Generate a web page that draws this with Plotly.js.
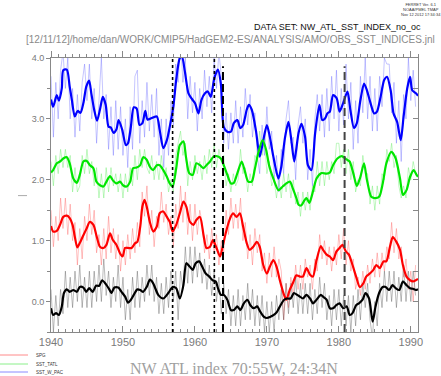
<!DOCTYPE html>
<html><head><meta charset="utf-8">
<script src="https://cdn.plot.ly/plotly-3.0.1.min.js"></script>
<style>html,body{margin:0;padding:0;background:#fff}#plot{width:441px;height:376px}</style>
</head><body><div id="plot"></div>
<script>
// ---- data ----
// Raw (thin) series on a 4-month grid starting at 1940.0
const thinStart = 1940, thinStep = 1/3;
const wpacRaw = [
 3.7,2.7,3.6, 3.0,3.8,4.1, 3.5,4.0,3.0, 3.5,2.7,3.4, 2.8,3.6,3.9, 3.3,3.9,3.0, 3.5,2.6,3.3, 4.0,3.0,3.4,
 2.5,3.2,2.4, 3.3,2.5,3.2, 2.4,3.0,2.2, 3.2,2.5,3.7, 3.8,2.6,3.3, 2.7,3.6,2.8, 3.4,2.7,3.5, 2.4,3.0,2.2,
 3.0,2.4,3.3, 2.9,3.9,3.6, 4.3,3.6,4.0, 3.0,3.7,3.1, 3.6,2.8,3.5, 3.0,3.8,3.2, 3.7,3.1,4.0, 3.5,4.1,3.7,
 2.6,3.1,2.5, 3.1,2.6,3.3, 2.6,3.2,2.7, 3.5,2.9,3.4, 2.7,3.1,2.4, 2.1,2.9,2.4, 3.2,2.5,2.8, 2.0,2.4,1.8,
 2.5,2.1,3.0, 3.3,2.6,2.7, 2.0,2.9,3.2, 2.6,3.0,2.0, 2.5,1.9,3.0, 3.4,2.8,3.4, 2.7,3.5,2.8, 3.7,3.0,3.8,
 2.8,3.5,2.9, 3.9,3.0,3.6, 2.5,3.3,2.6, 3.7,3.1,4.0, 3.0,3.7,2.8, 3.5,2.8,3.7, 3.2,4.0,3.9, 3.9,3.1,3.6,
 2.6,3.3,2.3, 3.4,3.0,4.0, 3.3,3.8,3.2];
const tatlRaw = [
 2.3,1.9,2.4, 2.1,2.5,2.2, 2.5,2.2,2.4, 1.8,2.2,1.8, 1.9,2.4,2.1, 2.5,2.1,2.3, 1.9,2.2,1.7, 2.1,1.7,2.2,
 1.8,2.2,1.9, 2.1,1.8,2.1, 1.7,2.1,1.8, 2.2,1.9,2.4, 2.0,2.5,2.2, 2.5,2.2,2.1, 2.4,2.0,2.3, 2.0,2.4,2.0,
 2.2,1.8,2.0, 1.8,2.4,2.6, 2.8,2.4,2.6, 1.9,2.3,2.0, 2.4,2.1,2.3, 2.0,2.4,2.1, 2.5,2.2,2.6, 2.2,2.5,2.3,
 2.4,1.9,2.1, 1.8,2.1,1.9, 2.0,2.5,2.1, 2.2,1.8,2.1, 1.9,2.4,2.3, 2.8,2.4,2.7, 2.1,2.3,1.9, 2.0,1.7,2.0,
 1.7,2.1,1.8, 2.1,1.7,2.0, 1.6,1.8,1.4, 1.8,1.5,1.8, 1.5,1.9,1.8, 2.3,1.9,2.3, 1.9,2.3,2.0, 2.3,2.1,2.6,
 2.6,2.2,2.5, 2.1,2.5,2.0, 2.3,1.8,2.0, 1.9,2.4,2.1, 2.1,1.6,1.9, 1.5,1.9,1.6, 2.1,2.0,2.5, 2.3,2.6,2.2,
 2.4,1.9,1.7, 1.9,1.7,2.2, 2.0,2.3,2.1];
const spgRaw = [
 1.5,0.9,1.4, 1.0,1.7,1.2, 1.7,1.1,1.6, 1.0,1.3,0.6, 1.2,0.7,1.4, 1.0,1.6,1.1, 1.5,0.8,1.1, 0.6,1.2,0.7,
 1.4,0.8,1.2, 0.7,1.1,0.5, 1.0,0.6,1.1, 0.7,1.2,0.8, 1.3,0.9,1.8, 1.4,1.9,1.1, 1.5,0.9,1.4, 1.2,1.8,1.3,
 1.6,1.1,1.4, 0.9,1.6,1.2, 1.9,1.3,1.8, 1.1,1.6,1.0, 1.6,1.1,1.5, 1.3,0.8,1.1, 0.7,1.2,0.8, 1.1,0.6,1.0,
 0.8,1.5,1.1, 1.7,1.2,1.6, 1.2,1.7,1.0, 1.3,0.7,1.1, 0.6,1.2,0.8, 1.1,0.5,0.8, 0.3,0.8,0.4, 0.9,0.4,0.7,
 0.5,-0.3,0.3, -0.1,0.4,0.1, 0.6,0.2,0.6, 0.2,0.7,0.4, 0.6,0.2,0.7, 0.5,1.1,0.7, 1.0,0.6,0.9, 0.5,0.9,0.6,
 1.1,0.7,1.2, 0.6,1.0,0.5, 0.7,0.2,0.4, 0.1,0.5,0.2, 0.6,0.3,0.7, 0.4,0.8,0.4, 0.8,0.5,0.9, 0.7,1.3,0.8,
 1.2,0.7,0.9, 0.4,0.7,0.2, 0.5,0.0,0.6];
const nwatlRaw = [
 0.2,-0.5,0.1, -0.4,0.2,-0.2, 0.5,-0.1,0.4, -0.1,0.5,0.0, 0.6,-0.1,0.4, -0.1,0.5,-0.1, 0.5,0.0,0.6, 0.0,0.7,0.1,
 0.5,-0.1,0.4, 0.0,0.6,-0.1, 0.4,-0.3,0.2, -0.3,0.4,-0.1, 0.5,-0.1,0.4, 0.0,0.6,0.1, 0.6,0.0,0.4, -0.2,0.3,-0.2,
 0.4,-0.1,0.5, 0.0,0.5,-0.3, 0.5,0.2,0.9, 0.3,0.9,0.3, 0.9,0.4,0.8, 0.3,0.7,0.2, 0.6,0.1,0.5, 0.0,0.4,-0.2,
 0.3,-0.2,0.2, -0.4,0.1,-0.4, 0.2,-0.4,0.1, -0.3,0.3,-0.3, 0.2,-0.4,0.1, -0.4,0.1,-0.5, 0.0,-0.5,0.0, -0.5,0.1,-0.3,
 0.2,-0.3,0.3, -0.2,0.3,-0.1, 0.4,-0.2,0.3, -0.2,0.3,-0.2, 0.3,-0.3,0.2, -0.2,0.4,-0.1, 0.3,-0.3,0.1, -0.4,0.2,-0.3,
 0.2,-0.4,0.1, -0.4,0.1,-0.5, 0.1,-0.4,0.2, -0.3,0.3,-0.1, 0.3,-0.3,-0.6, 0.0,-0.4,0.3, -0.1,0.5,0.0, 0.5,0.0,0.5,
 -0.1,0.4,0.0, 0.6,0.0,0.5, 0.0,0.5,0.1];

// Smoothed (thick) series
const wpacYears = [1940.0,1940.3,1940.8,1941.1,1941.5,1941.7,1942.2,1942.6,1942.9,1943.3,1943.7,1944.1,1944.5,1944.9,1945.3,1945.6,1946.0,1946.4,1946.8,1947.2,1947.6,1948.0,1948.3,1948.7,1949.1,1949.4,1949.9,1950.4,1950.7,1951.1,1951.5,1951.9,1952.3,1952.7,1953.1,1953.4,1953.75,1954.7,1955.1,1955.6,1956.1,1956.5,1957.0,1957.4,1957.9,1958.2,1958.6,1959.1,1959.5,1960.0,1960.5,1960.9,1961.4,1961.8,1962.2,1962.7,1963.2,1963.6,1964.0,1964.5,1965.0,1965.4,1965.9,1966.3,1966.7,1967.2,1967.5,1967.9,1968.5,1969.0,1969.5,1970.0,1970.4,1970.9,1971.6,1972.0,1972.5,1973.0,1973.4,1973.8,1974.4,1974.8,1975.3,1975.7,1976.2,1976.7,1977.3,1977.7,1978.1,1978.4,1978.75,1979.2,1979.7,1980.1,1980.6,1981.2,1981.6,1982.1,1982.5,1983.0,1983.5,1983.9,1984.4,1984.9,1985.3,1985.8,1986.3,1986.7,1987.2,1987.6,1988.1,1988.6,1989.0,1989.5,1989.9,1990.2,1990.7,1991.0];
const wpacSmooth = [3.32,3.20,3.39,3.30,3.50,3.80,3.81,3.53,3.31,3.04,3.13,3.10,3.26,3.53,3.63,3.42,3.15,2.97,3.15,3.36,3.23,2.87,2.86,2.77,2.83,2.98,2.82,2.57,2.60,2.87,3.19,3.17,2.90,2.93,3.13,2.99,3.00,3.04,2.82,2.52,2.65,2.87,3.20,3.64,4.00,4.02,3.78,3.42,3.34,3.26,3.09,3.31,3.42,3.45,3.36,3.67,3.81,3.58,2.87,2.79,2.79,2.93,2.98,2.85,2.90,3.15,3.23,3.15,2.79,2.38,2.65,2.90,2.71,2.38,2.02,2.21,2.68,2.95,2.65,2.30,2.77,2.92,2.71,2.24,2.16,2.76,3.23,2.98,3.01,3.09,3.12,3.39,3.34,3.12,3.26,3.45,3.15,2.85,2.93,3.31,3.58,3.47,3.26,3.09,3.12,3.36,3.64,3.69,3.47,3.09,2.95,2.65,3.04,3.50,3.69,3.47,3.42,3.38];
const tatlYears = [1940.0,1940.3,1940.8,1941.25,1941.7,1942.2,1942.6,1943.1,1943.6,1944.0,1944.5,1944.95,1945.4,1945.9,1946.3,1946.8,1947.3,1947.7,1948.2,1948.6,1949.1,1949.6,1950.0,1950.5,1951.0,1951.4,1951.9,1952.4,1952.8,1953.3,1953.75,1954.2,1954.7,1955.1,1955.6,1956.1,1956.5,1956.9,1957.4,1957.9,1958.4,1958.75,1959.2,1959.7,1960.2,1960.7,1961.2,1961.6,1962.1,1962.5,1963.0,1963.6,1964.0,1964.5,1965.0,1965.4,1965.9,1966.5,1966.9,1967.4,1967.9,1968.3,1968.8,1969.4,1969.9,1970.3,1970.9,1971.6,1972.2,1972.7,1973.2,1973.6,1974.1,1974.4,1974.8,1975.2,1975.5,1975.9,1976.3,1976.9,1977.6,1978.3,1978.75,1979.2,1979.8,1980.4,1981.0,1981.5,1982.0,1982.5,1983.0,1983.5,1983.9,1984.5,1984.96,1985.6,1986.1,1986.6,1987.3,1987.9,1988.5,1988.9,1989.4,1989.9,1990.4,1990.8,1991.0];
const tatlSmooth = [2.12,2.16,2.27,2.30,2.35,2.37,2.27,2.02,1.95,2.08,2.30,2.31,2.24,2.19,1.97,1.91,1.89,1.97,2.06,1.99,1.94,1.97,1.91,1.89,1.97,2.19,2.20,2.24,2.37,2.33,2.21,2.16,2.24,2.24,2.16,2.05,1.94,1.89,2.19,2.57,2.63,2.38,2.11,2.08,2.27,2.24,2.19,2.24,2.30,2.37,2.39,2.35,2.24,2.08,1.94,1.95,2.11,2.30,2.16,1.97,1.97,2.16,2.44,2.65,2.49,2.24,2.02,1.83,1.89,1.94,1.97,1.86,1.70,1.59,1.58,1.66,1.70,1.62,1.76,2.02,2.11,2.10,2.12,2.24,2.35,2.39,2.34,2.30,2.11,1.90,2.05,2.27,2.00,1.72,1.70,1.72,1.94,2.27,2.46,2.35,2.02,1.75,1.83,2.05,2.16,2.08,2.05];
const spgYears = [1940.0,1940.3,1940.8,1941.25,1941.7,1942.2,1942.6,1943.0,1943.3,1943.65,1944.0,1944.5,1944.95,1945.4,1945.9,1946.3,1946.8,1947.3,1947.7,1948.2,1948.6,1949.1,1949.6,1949.95,1950.3,1950.7,1951.2,1951.7,1952.0,1952.4,1952.7,1953.0,1953.3,1953.75,1954.2,1954.7,1955.1,1955.6,1956.1,1956.5,1956.9,1957.4,1957.9,1958.4,1958.8,1959.3,1959.8,1960.2,1960.7,1961.2,1961.6,1962.1,1962.5,1963.0,1963.5,1963.9,1964.4,1964.9,1965.3,1965.8,1966.25,1966.7,1967.2,1967.6,1968.1,1968.6,1969.0,1969.5,1970.0,1970.4,1970.9,1971.35,1971.8,1972.3,1972.7,1973.2,1973.6,1974.1,1974.6,1975.0,1975.5,1976.0,1976.4,1976.9,1977.5,1977.8,1978.3,1978.75,1979.2,1979.65,1980.1,1980.5,1981.0,1981.4,1981.9,1982.4,1982.9,1983.4,1983.8,1984.3,1984.8,1985.2,1985.7,1986.2,1986.6,1987.1,1987.5,1988.0,1988.5,1988.9,1989.4,1989.9,1990.3,1990.7,1991.0];
const spgSmooth = [1.24,1.15,1.16,1.26,1.39,1.41,1.37,1.26,1.07,0.89,0.96,1.09,1.20,1.31,1.26,1.09,0.90,0.88,0.93,1.12,1.01,0.93,0.79,0.74,0.88,0.88,0.88,0.96,0.98,1.23,1.56,1.67,1.56,1.30,1.15,1.23,1.45,1.48,1.39,1.31,1.15,1.26,1.45,1.64,1.56,1.31,1.26,1.34,1.39,1.09,0.88,0.90,1.01,0.88,0.74,0.93,1.18,1.37,1.45,1.39,1.45,1.23,0.96,0.85,0.90,0.98,0.90,0.60,0.46,0.57,0.68,0.57,0.35,0.14,0.03,0.20,0.30,0.43,0.41,0.41,0.55,0.44,0.41,0.68,0.91,0.85,0.77,0.74,0.68,0.82,0.88,0.93,0.82,0.77,0.60,0.41,0.24,0.30,0.41,0.46,0.52,0.60,0.55,0.66,0.66,0.90,1.06,0.98,0.85,0.60,0.41,0.35,0.33,0.35,0.37];
const nwatlYears = [1940.0,1940.3,1940.7,1941.1,1941.5,1941.8,1942.2,1942.6,1943.1,1943.6,1944.0,1944.5,1944.9,1945.3,1945.8,1946.25,1946.7,1947.1,1947.6,1948.1,1948.4,1948.8,1949.35,1949.8,1950.3,1950.7,1951.1,1951.5,1952.0,1952.4,1952.8,1953.3,1953.75,1954.2,1954.9,1955.6,1956.3,1956.9,1957.4,1957.9,1958.4,1958.8,1959.3,1959.7,1960.1,1960.6,1961.1,1961.5,1962.0,1962.45,1962.9,1963.2,1963.6,1964.0,1964.5,1965.0,1965.4,1965.9,1966.3,1966.8,1967.3,1967.7,1968.2,1968.65,1969.1,1969.6,1970.0,1970.5,1970.96,1971.4,1971.9,1972.4,1972.8,1973.3,1973.75,1974.2,1974.6,1975.0,1975.5,1976.0,1976.4,1976.9,1977.5,1977.8,1978.3,1978.75,1979.2,1979.65,1980.1,1980.6,1981.1,1981.5,1981.9,1982.4,1982.8,1983.3,1983.7,1984.2,1984.7,1985.1,1985.6,1986.1,1986.5,1987.0,1987.45,1987.9,1988.4,1988.9,1989.4,1989.9,1990.3,1990.7,1991.0];
const nwatlSmooth = [-0.11,-0.22,-0.19,-0.22,-0.08,0.14,0.20,0.16,0.19,0.16,0.24,0.23,0.16,0.22,0.16,0.26,0.26,0.35,0.29,0.20,0.14,0.23,0.23,0.16,0.08,-0.02,0.03,0.11,0.20,0.19,0.16,0.24,0.36,0.30,0.11,0.05,0.14,0.24,0.22,0.05,0.27,0.63,0.57,0.52,0.63,0.66,0.55,0.46,0.41,0.35,0.33,0.22,0.11,0.11,0.03,-0.14,-0.14,-0.08,-0.14,-0.03,0.03,-0.06,-0.11,-0.08,-0.17,-0.25,-0.27,-0.25,-0.22,-0.17,-0.06,0.03,0.05,0.05,0.14,0.11,0.08,0.05,0.11,0.05,-0.03,0.03,0.11,0.08,0.03,-0.11,-0.11,-0.06,-0.03,-0.11,-0.08,-0.22,-0.19,-0.06,-0.03,0.03,0.14,0.05,-0.33,-0.08,0.14,0.24,0.24,0.19,0.27,0.22,0.19,0.33,0.27,0.22,0.21,0.19,0.20];

const dottedYears = [1956.9, 1962.7];
const dashedYears = [1963.9, 1980.8];
const dashedColors = ['#000000', '#444444'];
const legendNames = ['SPG', 'SST_TATL', 'SST_W_PAC'];
const xTickYears = [1940, 1950, 1960, 1970, 1980, 1990];

// ---- build ----
const thinX = arr => arr.map((_, i) => thinStart + i * thinStep);
const thin = (y, color) => ({x: thinX(y), y: y, type: 'scatter', mode: 'lines',
  line: {color: color, width: 1}, hoverinfo: 'skip', showlegend: false});
const thick = (x, y, color) => ({x: x, y: y, type: 'scatter', mode: 'lines',
  line: {color: color, width: 2.2, shape: 'spline', smoothing: 0.7}, hoverinfo: 'skip', showlegend: false});

const traces = [
  thin(wpacRaw, 'rgba(90,90,255,0.35)'),
  thin(tatlRaw, 'rgba(90,235,90,0.38)'),
  thin(spgRaw, 'rgba(255,90,90,0.38)'),
  thin(nwatlRaw, 'rgba(80,80,80,0.38)'),
  thick(wpacYears, wpacSmooth, '#0000ff'),
  thick(tatlYears, tatlSmooth, '#00e600'),
  thick(spgYears, spgSmooth, '#ff0000'),
  thick(nwatlYears, nwatlSmooth, '#000000'),
  {x: [], y: [], xaxis: 'x2', yaxis: 'y2', type: 'scatter', mode: 'lines', hoverinfo: 'skip', showlegend: false}
];

const L = 51, R = 23, T = 58, B = 44, W = 441 - L - R, H = 376 - T - B;
const px = v => (v - L) / W, py = v => (376 - B - v) / H;

const shapes = [];
dottedYears.forEach(yr => shapes.push({type: 'line', xref: 'x', yref: 'paper', x0: yr, x1: yr, y0: 0, y1: 1,
  line: {color: '#000', width: 1.6, dash: 'dot'}}));
dashedYears.forEach((yr, i) => shapes.push({type: 'line', xref: 'x', yref: 'paper', x0: yr, x1: yr, y0: 0, y1: 0.97,
  line: {color: dashedColors[i], width: 2, dash: '8px,4px'}}));
const legendColors = ['#ff8a8a', '#8aef8a', '#8a8aff'];
const legendY = [355, 364, 372];
legendNames.forEach((n, i) => shapes.push({type: 'line', xref: 'paper', yref: 'paper',
  x0: px(0), x1: px(28), y0: py(legendY[i]), y1: py(legendY[i]), line: {color: legendColors[i], width: 1}}));
shapes.push({type: 'line', xref: 'paper', yref: 'paper', x0: px(18), x1: px(27), y0: py(195.6), y1: py(195.6),
  line: {color: '#aaa', width: 1}});

const annotations = [
  {text: 'FERRET Ver. 6.1<br>NOAA/PMEL TMAP<br>Nov 12 2012 17:34:34', xref: 'paper', yref: 'paper',
   x: px(421), y: py(0), xanchor: 'center', yanchor: 'top', showarrow: false,
   font: {size: 4, color: '#333', family: 'Liberation Sans'}},
  {text: 'DATA SET: NW_ATL_SST_INDEX_no_oc', xref: 'paper', yref: 'paper', x: px(423), y: py(27),
   xanchor: 'right', yanchor: 'middle', showarrow: false, font: {size: 9, color: '#111', family: 'Liberation Sans'}},
  {text: '[12/11/12]/home/dan/WORK/CMIP5/HadGEM2-ES/ANALYSIS/AMO/OBS_SST_INDICES.jnl', xref: 'paper', yref: 'paper',
   x: px(437), y: py(40), xanchor: 'right', yanchor: 'middle', showarrow: false,
   font: {size: 10, color: '#8a8a8a', family: 'Liberation Sans'}},
  {text: 'NW ATL index 70:55W, 24:34N', xref: 'paper', yref: 'paper', x: px(234), y: py(368),
   xanchor: 'center', yanchor: 'middle', showarrow: false, font: {size: 16, color: '#a0a0a0', family: 'Liberation Serif'}}
];
legendNames.forEach((n, i) => annotations.push({text: n, xref: 'paper', yref: 'paper', x: px(34), y: py(legendY[i]),
  xanchor: 'left', yanchor: 'middle', showarrow: false, font: {size: 4.5, color: '#333', family: 'Liberation Sans'}}));

const axCol = '#888';
const layout = {
  width: 441, height: 376, margin: {l: L, r: R, t: T, b: B, pad: 0},
  paper_bgcolor: '#fff', plot_bgcolor: '#fff', showlegend: false,
  xaxis: {range: [1940, 1991], tickvals: xTickYears, ticks: 'inside', ticklen: 6, tickcolor: axCol,
    showline: true, linecolor: axCol, linewidth: 1, showgrid: false, zeroline: false,
    minor: {dtick: 1, tick0: 1940, ticks: 'inside', ticklen: 3, tickcolor: axCol},
    tickfont: {size: 11, color: '#7a7a7a', family: 'Liberation Sans'}},
  xaxis2: {range: [1940, 1991], overlaying: 'x', side: 'top', anchor: 'y', tickvals: xTickYears, ticks: 'outside',
    ticklen: 6, tickcolor: axCol, showline: true, linecolor: axCol, showgrid: false, zeroline: false,
    showticklabels: false, minor: {dtick: 1, tick0: 1940, ticks: 'outside', ticklen: 3, tickcolor: axCol}},
  yaxis: {range: [-0.5, 4.0], dtick: 1, tick0: 0, tickformat: '.1f', ticks: 'outside', ticklen: 4, tickcolor: axCol,
    showline: true, linecolor: axCol, showgrid: false, zeroline: false,
    minor: {dtick: 0.5, tick0: 0, ticks: 'outside', ticklen: 3, tickcolor: axCol},
    tickfont: {size: 9, color: '#7a7a7a', family: 'Liberation Sans'}},
  yaxis2: {range: [-0.5, 4.0], overlaying: 'y', side: 'right', anchor: 'x', dtick: 0.5, tick0: 0, ticks: 'inside',
    ticklen: 5, tickcolor: axCol, showline: true, linecolor: axCol, showgrid: false, zeroline: false,
    showticklabels: false},
  shapes: shapes, annotations: annotations
};
Plotly.newPlot('plot', traces, layout, {staticPlot: true, displayModeBar: false});
</script></body></html>
